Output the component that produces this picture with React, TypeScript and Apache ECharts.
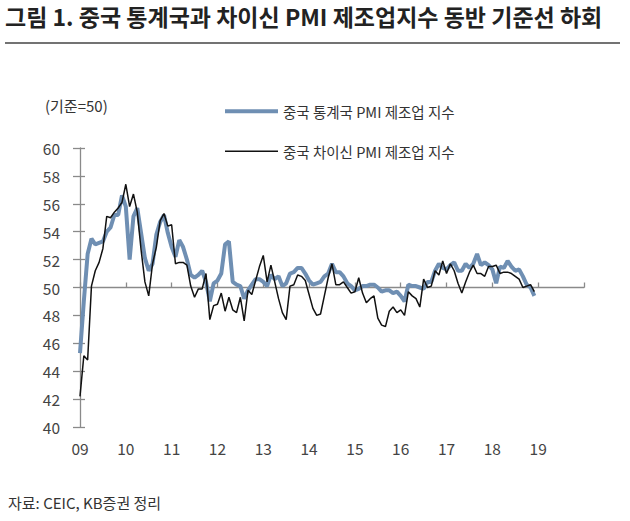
import React, { useEffect, useRef } from "react";
import * as echarts from "echarts";

// Monthly values, Jan 2009 .. Dec 2018
const nbsPmi: number[] = [
  45.3, 49.0, 52.4, 53.5, 53.1, 53.2, 53.3, 54.0, 54.3, 55.2, 55.2, 56.6,
  55.8, 52.0, 55.1, 55.7, 53.9, 52.1, 51.2, 51.7, 53.8, 54.7, 55.2, 53.9,
  52.9, 52.2, 53.4, 52.9, 52.0, 50.9, 50.7, 50.9, 51.2, 50.4, 49.0, 50.3,
  50.5, 51.0, 53.1, 53.3, 50.4, 50.2, 50.1, 49.2, 49.8, 50.2, 50.6, 50.6,
  50.4, 50.1, 50.9, 50.6, 50.8, 50.1, 50.3, 51.0, 51.1, 51.4, 51.4, 51.0,
  50.5, 50.2, 50.3, 50.4, 50.8, 51.0, 51.7, 51.1, 51.1, 50.8, 50.3, 50.1,
  49.8, 49.9, 50.1, 50.1, 50.2, 50.2, 50.0, 49.7, 49.8, 49.8, 49.6, 49.7,
  49.4, 49.0, 50.2, 50.1, 50.1, 50.0, 49.9, 50.4, 50.4, 51.2, 51.7, 51.4,
  51.3, 51.6, 51.8, 51.2, 51.2, 51.7, 51.4, 51.7, 52.4, 51.6, 51.8, 51.6,
  51.3, 50.3, 51.5, 51.4, 51.9, 51.5, 51.2, 51.3, 50.8, 50.2, 50.0, 49.4,
];

const caixinPmi: number[] = [
  42.2, 45.1, 44.8, 50.1, 51.2, 51.8, 52.8, 55.1, 55.0, 55.4, 55.7, 56.1,
  57.4, 55.8, 56.7, 55.4, 52.7, 50.4, 49.4, 51.7, 52.9, 54.8, 55.3, 54.4,
  54.5, 51.7, 51.8, 51.8, 51.6, 50.1, 49.3, 49.9, 49.9, 51.0, 47.7, 48.7,
  48.8, 49.6, 48.3, 49.3, 48.4, 48.2, 49.3, 47.6, 49.8, 49.5, 50.5, 51.5,
  52.3, 50.4, 51.6, 50.4, 49.2, 48.2, 47.7, 50.1, 50.2, 50.9, 50.8, 50.5,
  49.5, 48.5, 48.0, 48.1, 49.4, 50.7, 51.7, 50.2, 50.2, 50.4, 50.0, 49.6,
  49.7, 50.7, 49.6, 48.9, 49.2, 49.4, 47.8, 47.3, 47.2, 48.3, 48.6, 48.2,
  48.4, 48.0, 49.7, 49.4, 49.2, 48.6, 50.6, 50.0, 50.1, 51.2, 50.9, 51.9,
  51.0, 51.7, 51.2, 50.3, 49.6, 50.4, 51.1, 51.6, 51.0, 51.0, 50.8, 51.5,
  51.5, 51.6, 51.0, 51.1, 51.1, 51.0, 50.8, 50.6, 50.0, 50.1, 50.2, 49.7,
];

const yearLabels: string[] = ["09", "10", "11", "12", "13", "14", "15", "16", "17", "18", "19", ""];

const seriesNames: string[] = ["중국 통계국 PMI 제조업 지수", "중국 차이신 PMI 제조업 지수"];

const titleText = "그림 1. 중국 통계국과 차이신 PMI 제조업지수 동반 기준선 하회";
const unitText = "(기준=50)";
const sourceText = "자료: CEIC, KB증권 정리";

const FONT = "'Noto Sans CJK KR', 'Noto Sans', sans-serif";
const BLUE = "#6f8fb3";

export default function App() {
  const ref = useRef<HTMLDivElement>(null);

  useEffect(() => {
    if (!ref.current) return;
    const chart = echarts.init(ref.current, null, { renderer: "svg" });

    const toPairs = (arr: number[]) => arr.map((v, i) => [i, v]);

    const gridTop = 148;
    const gridBottom = 94;
    const gridHeight = 521 - gridTop - gridBottom;
    const zeroOffset = -gridHeight * ((50 - 40) / (60 - 40));

    chart.setOption({
      animation: false,
      backgroundColor: "#fff",
      textStyle: { fontFamily: FONT },
      grid: { left: 80, right: 46, top: gridTop, bottom: gridBottom, containLabel: false },
      xAxis: [
        {
          type: "value",
          min: 0,
          max: 132,
          interval: 12,
          position: "bottom",
          offset: zeroOffset,
          axisLine: { show: true, lineStyle: { color: "#8a8a8a", width: 1.3 } },
          axisTick: { show: true, inside: true, length: 5, lineStyle: { color: "#8a8a8a", width: 1.3 } },
          axisLabel: { show: false },
          splitLine: { show: false },
        },
        {
          type: "value",
          min: 0,
          max: 132,
          interval: 12,
          position: "bottom",
          axisLine: { show: false },
          axisTick: { show: false },
          splitLine: { show: false },
          axisLabel: {
            show: true,
            margin: 13,
            fontSize: 15.5,
            color: "#444",
            fontFamily: FONT,
            formatter: (v: number) => yearLabels[Math.round(v / 12)] ?? "",
          },
        },
      ],
      yAxis: [
        {
          type: "value",
          min: 40,
          max: 60,
          interval: 2,
          position: "left",
          axisLine: { show: true, lineStyle: { color: "#8a8a8a", width: 1.3 } },
          axisTick: { show: true, inside: false, length: 7, lineStyle: { color: "#8a8a8a", width: 1.3 } },
          axisLabel: { show: true, margin: 20, fontSize: 15.5, color: "#444", fontFamily: FONT },
          splitLine: { show: false },
        },
        {
          type: "value",
          min: 40,
          max: 60,
          interval: 2,
          position: "left",
          axisLine: { show: false },
          axisTick: { show: true, inside: true, length: 5, lineStyle: { color: "#8a8a8a", width: 1.3 } },
          axisLabel: { show: false },
          splitLine: { show: false },
        },
      ],
      legend: [
        {
          data: [seriesNames[0]],
          left: 220,
          top: 99,
          icon: "rect",
          itemWidth: 53,
          itemHeight: 4,
          itemGap: 5,
          textStyle: { fontSize: 14.5, color: "#333", fontFamily: FONT },
        },
        {
          data: [seriesNames[1]],
          left: 220,
          top: 139,
          icon: "rect",
          itemWidth: 53,
          itemHeight: 1.6,
          textStyle: { fontSize: 14.5, color: "#333", fontFamily: FONT },
        },
      ],
      series: [
        {
          name: seriesNames[0],
          type: "line",
          xAxisIndex: 0,
          yAxisIndex: 0,
          data: toPairs(nbsPmi),
          showSymbol: false,
          symbol: "none",
          color: BLUE,
          lineStyle: { color: BLUE, width: 4 },
          itemStyle: { color: BLUE },
          z: 2,
        },
        {
          name: seriesNames[1],
          type: "line",
          xAxisIndex: 0,
          yAxisIndex: 0,
          data: toPairs(caixinPmi),
          showSymbol: false,
          symbol: "none",
          color: "#111",
          lineStyle: { color: "#111", width: 1.5 },
          itemStyle: { color: "#111" },
          z: 3,
        },
      ],
      graphic: [
        {
          type: "text",
          left: 5,
          top: 4,
          style: { text: titleText, fontSize: 23, fontWeight: "bold", fill: "#222", fontFamily: FONT },
        },
        {
          type: "line",
          shape: { x1: 5, y1: 43, x2: 620, y2: 43 },
          style: { stroke: "#444", lineWidth: 1.5 },
        },
        {
          type: "text",
          left: 45,
          top: 98,
          style: { text: unitText, fontSize: 15, fill: "#333", fontFamily: FONT },
        },
        {
          type: "text",
          left: 8,
          top: 495,
          style: { text: sourceText, fontSize: 15, fill: "#333", fontFamily: FONT },
        },
      ],
    });

    return () => chart.dispose();
  }, []);

  return <div ref={ref} style={{ width: 630, height: 521, position: "absolute", left: 0, top: 0 }} />;
}
